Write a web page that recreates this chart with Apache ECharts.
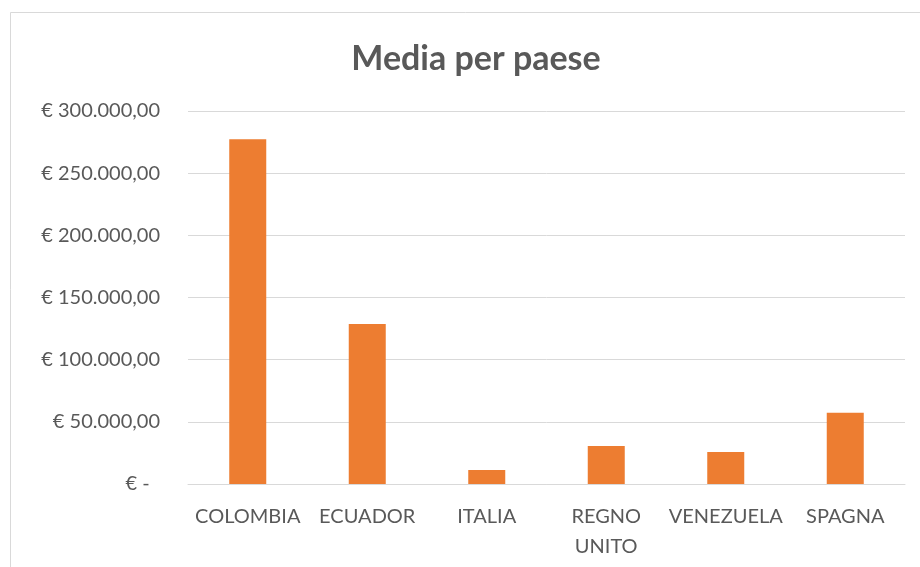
<!DOCTYPE html>
<html>
<head>
<meta charset="utf-8">
<script src="https://cdn.jsdelivr.net/npm/echarts@6/dist/echarts.min.js"></script>
<style>
  html, body { margin: 0; padding: 0; background: #fff; }
  #chart { width: 920px; height: 567px; }
</style>
</head>
<body>
<div id="chart"></div>
<script>
// Average amount per country
const countries = ['COLOMBIA', 'ECUADOR', 'ITALIA', 'REGNO\nUNITO', 'VENEZUELA', 'SPAGNA'];
const averages = [277300, 128600, 11300, 30600, 25700, 57300];
const yTicks = [0, 50000, 100000, 150000, 200000, 250000, 300000];

const textColor = '#595959';
const fontFamily = 'Lato, "Open Sans", sans-serif';

function euro(v) {
  if (v === 0) return '€ -  ';
  const s = Math.round(v).toString().replace(/\B(?=(\d{3})+(?!\d))/g, '.');
  return '€ ' + s + ',00';
}

const chart = echarts.init(document.getElementById('chart'), null, { renderer: 'canvas' });
chart.setOption({
  backgroundColor: '#ffffff',
  animation: false,
  title: {
    text: 'Media per paese',
    left: 471,
    textAlign: 'center',
    top: 37,
    textStyle: { color: textColor, fontSize: 34, fontWeight: 'bold', fontFamily: fontFamily }
  },
  graphic: [
    { type: 'line', shape: { x1: 10.5, y1: 12.5, x2: 920, y2: 12.5 }, style: { stroke: '#D9D9D9', lineWidth: 1 } },
    { type: 'line', shape: { x1: 10.5, y1: 12.5, x2: 10.5, y2: 567 }, style: { stroke: '#D9D9D9', lineWidth: 1 } }
  ],
  grid: { left: 188, right: 15, top: 111, bottom: 83, containLabel: false },
  xAxis: {
    type: 'category',
    data: countries,
    axisLine: { show: true, lineStyle: { color: '#D9D9D9', width: 1 } },
    axisTick: { show: false },
    axisLabel: {
      color: textColor, fontSize: 20, fontFamily: fontFamily,
      margin: 18, lineHeight: 30, interval: 0
    }
  },
  yAxis: {
    type: 'value',
    min: yTicks[0],
    max: yTicks[yTicks.length - 1],
    interval: yTicks[1] - yTicks[0],
    axisLine: { show: false },
    axisTick: { show: false },
    splitLine: { lineStyle: { color: '#D9D9D9', width: 1 } },
    axisLabel: {
      color: textColor, fontSize: 20, fontFamily: fontFamily,
      margin: 28, formatter: euro
    }
  },
  series: [{
    type: 'bar',
    data: averages,
    barWidth: 37,
    itemStyle: { color: '#ED7D31' }
  }]
});
</script>
</body>
</html>
